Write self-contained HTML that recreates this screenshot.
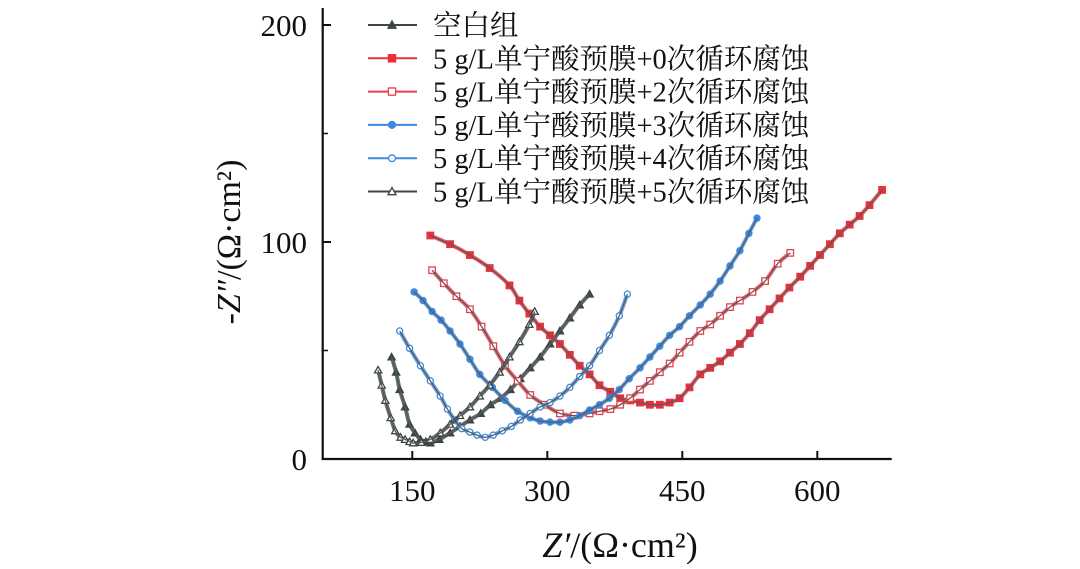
<!DOCTYPE html>
<html><head><meta charset="utf-8">
<style>
body{margin:0;background:#fff;width:1080px;height:564px;overflow:hidden}
svg text{font-family:"Liberation Serif","Noto Serif CJK SC",serif;fill:#111}
</style></head><body>
<svg id="chart" width="1080" height="564" viewBox="0 0 1080 564" xmlns="http://www.w3.org/2000/svg">
<g id="axes"></g>
<g id="series"></g>
<g id="legend"></g>
<text transform="translate(240,242) rotate(-90)" text-anchor="middle" font-size="34"><tspan font-style="italic">-Z″</tspan>/(Ω·cm²)</text>
<text x="620" y="557" text-anchor="middle" font-size="36"><tspan font-style="italic">Z′</tspan>/(Ω·cm²)</text>
</svg>
<script>
const xTicks=[150,300,450,600];
const yTicks=[0,100,200];
const yMinor=[50,150];
const seriesNames=["空白组","5 g/L单宁酸预膜+0次循环腐蚀","5 g/L单宁酸预膜+2次循环腐蚀","5 g/L单宁酸预膜+3次循环腐蚀","5 g/L单宁酸预膜+4次循环腐蚀","5 g/L单宁酸预膜+5次循环腐蚀"];
const seriesColors=["#3a4646","#e8303c","#e8404c","#3a88e0","#3a8ae0","#3a4646"];
const seriesMarkers=["tri","sq","sqo","circ","circo","trio"];
const blankX=[127,132,136,142,147,153,159,165,170,180,192,203,214,226,237,248,259,270,281,292,303,314,325,336,347];
const blankY=[47,40,32,24,16,12,9,8,7.4,9,12,15,18,21,25,28,32,37,42,47,53,59,65,71,76];
const c0X=[170,192,214,236,258,269,280,292,303,314,325,336,347,358,370,381,392,403,414,425,436,447,458,470,481,492,503,514,525,536,547,558,569,581,592,603,614,625,636,647,658,672];
const c0Y=[103,99,94,88,80,73,67,61,57,53,48,43,39,34,31,28,27,26,25,25,26,28,33,39,42,45,49,53,58,64,69,74,79,84,89,94,99,104,108,112,117,124];
const c2X=[172,185,199,214,227,240,253,267,281,297,314,330,347,358,370,381,392,403,414,425,436,447,458,470,481,492,503,514,528,542,556,570];
const c2Y=[87,81,75,69,61,52,43,36,29.5,25,21,20,21,22,23,25,28,32,36,40,44,49,54,59,62,66,70,73,77,82,90,95];
const c3X=[152,162,172,182,192,203,214,225,239,253,267,281,292,303,314,325,336,347,358,369,380,391,403,414,425,436,447,458,470,481,492,503,514,524,533];
const c3Y=[77,73,68,64,59,53,46,39,33,27,22,19,17.5,17,17,18,20,22.6,25,28,32,37,42,47,52,57,61,66,71,76,82,89,96,104,111];
const c4X=[136,147,159,170,181,189,197,205,214,222,231,240,250,260,270,281,292,303,314,325,336,347,358,369,380,389];
const c4Y=[59,51,43,36,29,23,18,14,12.4,11,10,11,13,15,18,21,24,26,29,33,38,43,50,57,66,76];
const c5X=[112,116,120,126,131,137,142,147,151,160,170,181,192,203,214,225,236,247,258,269,280,286];
const c5Y=[41,34,27,19,13,10,9,8,7.4,7.6,9,12,16,20,24,29,34,40,47,54,62,68];
const allX=[blankX,c0X,c2X,c3X,c4X,c5X];
const allY=[blankY,c0Y,c2Y,c3Y,c4Y,c5Y];

const NS="http://www.w3.org/2000/svg";
function xs(v){return 412.3+(v-150)*0.9;}
function ys(v){return 459-v*2.17;}
function mk(tag,attrs,parent){const e=document.createElementNS(NS,tag);for(const k in attrs)e.setAttribute(k,attrs[k]);parent.appendChild(e);return e;}
const axes=document.getElementById('axes');
let spine=mk('path',{d:'M322.7,8 L322.7,459 L891.7,459',fill:'none',stroke:'#111','stroke-width':2.2},axes);


xTicks.forEach(v=>{
 let t=mk('line',{x1:xs(v),x2:xs(v),y1:459,y2:451,stroke:'#111','stroke-width':2},axes);
 
 
 let l=mk('text',{x:xs(v),y:501,'text-anchor':'middle','font-size':31},axes);l.textContent=v;
 
 
});
yTicks.forEach(v=>{
 let t=mk('line',{x1:322.7,x2:331,y1:ys(v),y2:ys(v),stroke:'#111','stroke-width':2},axes);
 
 
 let l=mk('text',{x:307,y:ys(v)+11,'text-anchor':'end','font-size':31},axes);l.textContent=v;
 
 
});
yMinor.forEach(v=>{
 let t=mk('line',{x1:322.7,x2:328,y1:ys(v),y2:ys(v),stroke:'#111','stroke-width':1.5},axes);
 
 
});
function smooth(pts){
 let d='M'+pts[0][0]+','+pts[0][1];
 for(let i=0;i<pts.length-1;i++){
  const p0=pts[Math.max(0,i-1)],p1=pts[i],p2=pts[i+1],p3=pts[Math.min(pts.length-1,i+2)];
  const c1=[p1[0]+(p2[0]-p0[0])/6,p1[1]+(p2[1]-p0[1])/6],c2=[p2[0]-(p3[0]-p1[0])/6,p2[1]-(p3[1]-p1[1])/6];
  d+=' C'+c1[0]+','+c1[1]+' '+c2[0]+','+c2[1]+' '+p2[0]+','+p2[1];
 }
 return d;
}
function marker(type,x,y,color,parent,size){
 const s=size||3.6;let e;
 const filled=!type.endsWith('o');
 const fill=filled?color:'#fff';
 if(type.startsWith('tri')) e=mk('polygon',{points:`${x},${y-s} ${x-s},${y+s*0.8} ${x+s},${y+s*0.8}`,fill:fill,stroke:color,'stroke-width':1.3},parent);
 else if(type.startsWith('sq')) e=mk('rect',{x:x-s*0.9,y:y-s*0.9,width:s*1.8,height:s*1.8,fill:fill,stroke:color,'stroke-width':1.3},parent);
 else e=mk('circle',{cx:x,cy:y,r:s*0.85,fill:fill,stroke:color,'stroke-width':1.3},parent);
 return e;
}
const sg=document.getElementById('series');
allX.forEach((X,si)=>{
 const g=mk('g',{},sg);
 
 
 const pts=X.map((v,i)=>[xs(v),ys(allY[si][i])]);
 let p=mk('path',{d:smooth(pts),fill:'none',stroke:seriesColors[si],'stroke-width':4,'stroke-opacity':0.8},g);
 
 
 pts.forEach(pt=>{
  let m=marker(seriesMarkers[si],pt[0],pt[1],seriesColors[si],g);
  
  
 });
 let f=mk('path',{d:smooth(pts),fill:'none',stroke:'#5a5a5a','stroke-width':1.3},g);
 
 
});
const lg=document.getElementById('legend');
seriesNames.forEach((n,i)=>{
 const y=25+i*33.3;
 const g=mk('g',{},lg);
 
 
 mk('line',{x1:368,x2:417,y1:y,y2:y,stroke:seriesColors[i],'stroke-width':2},g);
 marker(seriesMarkers[i],392,y,seriesColors[i],g,4);
 const t=mk('text',{x:433,y:y+10,'font-size':28.5},g);t.textContent=n;
});
</script>
</body></html>
